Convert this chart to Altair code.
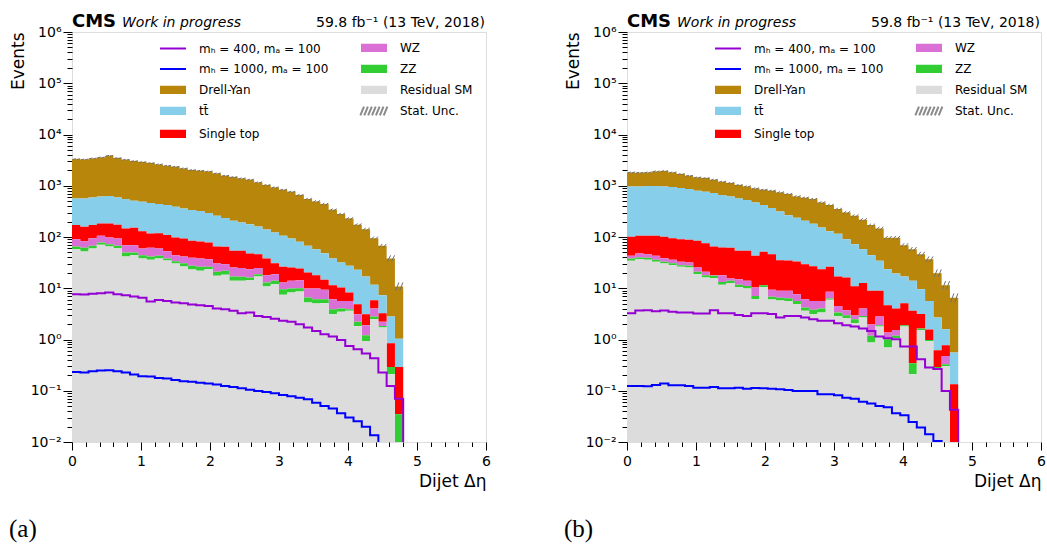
import numpy as np
import pandas as pd
import altair as alt

# ---------------- data ----------------
# histogram: 40 bins of width 0.12 on dijet delta-eta, 0 .. 4.8
bin_edges = [round(0.12 * i, 2) for i in range(41)]

SIG4 = "mₕ = 400, mₐ = 100"
SIG1 = "mₕ = 1000, mₐ = 100"
TT = "tt\u0304"

# Panel (a): stacked totals (top edge of each band, in events)
a_top_drellyan = [3318,3269,3419,3576,3854,3471,3220,3032,2899,2772,2611,2459,2350,2180,2023,1963,1905,1741,1568,1477,
                  1391,1310,1162,1030,927,835,763,657,549,494,438,340,280,230,173,142,95.0,67.3,38.1,10.8]
a_top_ttbar = [566,566,591,619,628,591,549,509,487,459,438,419,389,361,335,320,293,259,234,207,
               192,178,161,140,123,106,93.6,80.6,67.3,57.9,48.4,38.1,31.8,27.4,22.9,17.0,11.65,7.32,2.81,1.04]
a_top_singletop = [170.5,158,170.5,184,184,173,147,151,130,117,119,109,97.9,93.6,84.3,81.8,78.2,65.3,64.3,53.8,
                   53.8,47.7,46.3,38.1,30.9,26.2,25.4,24.3,20.3,18.0,14.6,11.5,10.3,8.25,4.88,3.12,5.85,3.26,0.845,0.292]
a_top_wz = [90.8,83.0,95.0,105.5,97.9,93.6,69.4,69.4,59.7,61.5,59.7,52.9,44.2,41.7,39.2,38.1,37.0,30.4,29.5,25.4,
            24.7,23.6,24.7,18.0,18.8,12.9,13.95,14.4,9.88,9.88,9.30,6.11,5.66,5.66,3.12,1.90,4.02,2.21,0.292,0.0347]
a_top_zz = [65.3,61.5,67.3,78.2,72.5,67.3,49.9,49.9,44.2,41.7,42.9,38.1,33.8,30.9,27.4,26.2,26.2,20.9,21.9,17.0,
            16.7,16.2,18.8,12.9,13.95,9.59,9.88,10.0,6.59,6.11,6.11,3.90,4.02,3.90,2.21,1.21,2.81,1.84,0.292,0.0347]
a_residual = [57.9,52.2,59.7,70.4,65.3,60.6,41.7,44.2,38.1,35.9,38.1,34.8,30.4,26.6,23.2,21.9,23.6,17.5,18.3,13.95,
              13.95,14.4,17.0,10.8,12.0,7.43,8.25,8.63,5.26,5.03,5.11,3.12,3.46,3.62,1.84,0.939,2.49,1.71,0.210,0]
a_sig400 = [7.66,7.54,7.77,8.01,8.25,7.66,7.32,6.89,6.49,5.51,5.93,5.66,5.26,5.11,4.81,4.67,4.53,4.02,3.90,3.62,
            3.26,3.36,2.89,2.76,2.53,2.31,2.21,1.99,1.71,1.47,1.27,1.14,0.982,0.750,0.645,0.531,0.431,0.226,0.124,0.0702]
a_sig1000 = [0.233,0.226,0.240,0.247,0.251,0.240,0.226,0.207,0.192,0.189,0.178,0.173,0.163,0.153,0.149,0.144,0.138,0.132,0.124,0.119,
             0.112,0.105,0.0991,0.0947,0.0892,0.0828,0.0780,0.0734,0.0681,0.0586,0.0505,0.0448,0.0363,0.0299,0.0253,0.0199,0.0135,0,0,0]
a_stat_unc = [0.015,0.015,0.015,0.015,0.015,0.015,0.015,0.015,0.015,0.015,0.02,0.02,0.02,0.02,0.02,0.02,0.02,0.02,0.02,0.02,
              0.025,0.025,0.025,0.025,0.025,0.03,0.03,0.035,0.04,0.045,0.05,0.05,0.05,0.05,0.055,0.065,0.075,0.09,0.15,0.2]

# Panel (b)
b_top_drellyan = [1822,1795,1822,1905,1934,1822,1690,1568,1455,1412,1310,1197,1128,1030,970,887,835,798,741,687,
                  619,583,549,472,419,350,301,259,217,170.5,147,96.4,96.4,69.4,57.9,46.3,37.0,19.7,11.5,6.49]
b_top_ttbar = [970,970,985,985,970,941,900,860,798,763,719,657,619,566,525,472,419,366,315,267,
               237,207,181,153.5,130,115.5,90.8,72.5,57.9,44.2,34.3,23.6,19.4,17.0,13.95,9.59,5.66,2.68,1.59,0.556]
b_top_singletop = [100.9,105.5,105.5,105.5,100.9,95.0,90.8,88.1,84.3,75.9,65.3,62.4,61.5,53.8,53.8,42.9,51.4,46.3,35.3,34.8,
                   33.3,29.5,27.0,23.6,26.2,17.0,16.2,11.0,12.7,8.89,8.89,4.67,4.02,5.11,3.62,3.16,1.56,0.617,0.773,0.134]
b_top_wz = [42.9,47.7,46.3,42.9,38.7,35.9,32.8,31.8,25.4,20.9,18.0,18.0,15.5,15.0,13.95,10.3,11.5,9.30,8.89,8.89,
            7.66,6.11,5.66,5.66,8.50,4.53,3.73,2.93,4.02,1.96,2.81,1.37,1.54,1.90,0.344,1.64,0.982,0.292,0.478,0]
b_top_zz = [38.1,39.8,39.2,35.9,32.8,30.9,28.2,27.4,20.9,18.0,17.5,13.3,13.95,11.65,11.1,7.04,11.5,6.79,6.49,6.40,
            5.66,4.20,3.79,4.02,6.30,3.36,2.98,2.49,2.89,1.18,1.90,1.01,1.18,1.90,0.344,1.64,0.982,0.292,0.329,0]
b_residual = [34.3,37.0,35.9,32.8,30.4,28.2,26.2,25.4,18.8,16.2,15.7,11.7,12.6,10.6,9.88,6.12,10.6,6.02,5.76,5.67,
              4.88,3.62,3.12,3.36,5.94,2.85,2.64,2.08,2.68,0.871,1.79,0.696,1.06,1.79,0.21,1.54,0.925,0.275,0.305,0]
b_sig400 = [3.26,3.67,3.73,3.57,3.67,3.46,3.36,3.36,3.21,3.21,3.73,3.26,3.26,3.02,2.89,3.26,3.26,3.16,2.68,2.89,
            2.89,2.68,2.49,2.31,2.31,2.08,1.90,1.79,1.64,1.47,1.14,1.06,1.01,0.728,0.728,0.412,0.283,0.267,0.0991,0.0428]
b_sig1000 = [0.124,0.124,0.122,0.130,0.138,0.128,0.128,0.124,0.115,0.115,0.119,0.112,0.112,0.115,0.110,0.113,0.112,0.110,0.107,0.104,
             0.0991,0.0991,0.0991,0.0853,0.0853,0.0816,0.0734,0.0702,0.0613,0.0561,0.0505,0.0475,0.0363,0.0332,0.0246,0.0191,0.0141,0.0105,0,0]
b_stat_unc = [0.02,0.02,0.02,0.02,0.02,0.02,0.02,0.02,0.02,0.02,0.03,0.03,0.03,0.03,0.03,0.03,0.03,0.035,0.035,0.035,
              0.04,0.04,0.045,0.045,0.05,0.055,0.06,0.065,0.07,0.07,0.08,0.085,0.09,0.09,0.1,0.11,0.13,0.18,0.2,0.22]

stack_names = ["Drell-Yan", TT, "Single top", "WZ", "ZZ", "Residual SM"]  # top to bottom
stack_colors = ["#b8860b", "#87ceeb", "#ff0000", "#da70d6", "#32cd32", "#dcdcdc"]
sig_names = [SIG4, SIG1]
sig_colors = ["#9400d3", "#0000ff"]
panels = {
    "a": dict(tops=[a_top_drellyan, a_top_ttbar, a_top_singletop, a_top_wz, a_top_zz, a_residual],
              s4=a_sig400, s1=a_sig1000, unc=a_stat_unc),
    "b": dict(tops=[b_top_drellyan, b_top_ttbar, b_top_singletop, b_top_wz, b_top_zz, b_residual],
              s4=b_sig400, s1=b_sig1000, unc=b_stat_unc),
}

# legend entries (filled column by column, two columns)
legend_dom = [SIG4, SIG1, "Drell-Yan", TT, "Single top", "WZ", "ZZ", "Residual SM", "Stat. Unc."]
legend_rng = ["#9400d3", "#0000ff", "#b8860b", "#87ceeb", "#ff0000", "#da70d6", "#32cd32", "#dcdcdc", "#8a8a8a"]
RECT = "".join(f"M-1,{y:.2f}H1" for y in (-0.25, -0.17, -0.09, -0.01, 0.07, 0.15, 0.23))
HATCH = "".join(f"M{-1.05 + 0.3 * k:.2f},0.33L{-0.77 + 0.3 * k:.2f},-0.33" for k in range(7))
legend_shapes = ["stroke", "stroke", RECT, RECT, RECT, RECT, RECT, RECT, HATCH]

is_maj_x = "abs(datum.value - round(datum.value)) < 0.001"
x_vals = [round(0.2 * i, 1) for i in range(31)]
LE = "(log(datum.value)/LN10)"
is_maj_y = f"abs({LE} - round({LE})) < 0.001"
y_vals = [float(f"{m}e{e}") for e in range(-2, 6) for m in range(1, 10)] + [1e6]
sup = "['⁻²','⁻¹','⁰','¹','²','³','⁴','⁵','⁶']"

W, H = 414, 410
FLOOR = 1e-5

xaxis = alt.Axis(values=x_vals, labelExpr=f"{is_maj_x} ? format(datum.value, 'd') : ' '",
                 tickSize={"condition": {"test": is_maj_x, "value": 8}, "value": 4.5},
                 tickColor="black", tickWidth=1, domain=False, grid=False, labelFontSize=14,
                 labelFont="DejaVu Sans", labelColor="black", labelPadding=4, labelFlush=False,
                 labelOverlap=False, labelBound=False, title="Dijet Δη", titleFontSize=17,
                 titleFont="DejaVu Sans", titleFontWeight="normal", titleAnchor="end",
                 titleColor="black", titlePadding=5)
yaxis = alt.Axis(values=y_vals, labelExpr=f"{is_maj_y} ? '10' + {sup}[round({LE}) + 2] : ' '",
                 tickSize={"condition": {"test": is_maj_y, "value": 9}, "value": 5},
                 tickColor="black", tickWidth=1, domain=False, grid=False, labelFontSize=14,
                 labelFont="DejaVu Sans", labelColor="black", labelPadding=2, labelFlush=False,
                 labelOverlap=False, labelBound=False, title="Events", titleFontSize=17,
                 titleFont="DejaVu Sans", titleFontWeight="normal", titleAnchor="end",
                 titleColor="black", titlePadding=3)
xs = alt.Scale(domain=[0, 6], nice=False, zero=False)
ys = alt.Scale(type="log", domain=[1e-2, 1e6], nice=False)


def panel(key):
    P = panels[key]
    tops = P["tops"]
    arows = []
    for j, name in enumerate(stack_names):
        for i in range(41):
            k = min(i, 39)
            hi = float(tops[j][k])
            lo = float(tops[j + 1][k]) if j + 1 < len(tops) else 0.0
            arows.append(dict(x=bin_edges[i], hi=max(hi, FLOOR), lo=max(lo, FLOOR), proc=name))
    adf = pd.DataFrame(arows)

    lrows = []
    for name, arr in ((SIG4, P["s4"]), (SIG1, P["s1"])):
        for i in range(40):
            v = float(arr[i]) if arr[i] > 0 else FLOOR
            lrows.append(dict(x=bin_edges[i], y=v, proc=name, o=2 * i))
            lrows.append(dict(x=bin_edges[i + 1], y=v, proc=name, o=2 * i + 1))
        lrows.append(dict(x=bin_edges[40], y=FLOOR, proc=name, o=80))
    ldf = pd.DataFrame(lrows)

    hrows = []
    for i in range(40):
        tot = float(tops[0][i])
        u = float(P["unc"][i])
        for k in range(2):
            xa = bin_edges[i] + 0.012 + 0.058 * k
            hrows.append(dict(x=xa, x2=xa + 0.045, y=tot / (1 + u), y2=tot * (1 + u)))
    hdf = pd.DataFrame(hrows)

    kdf = pd.DataFrame({"proc": legend_dom, "x": [-5.0] * 9, "y": [1.0] * 9})

    leg = alt.Legend(title=None, orient="none", legendX=87, legendY=2, columns=2,
                     columnPadding=27, rowPadding=-2.5, symbolSize=676, symbolStrokeWidth=2,
                     labelFontSize=12, labelFont="DejaVu Sans", labelColor="black",
                     labelOffset=12, padding=0, direction="vertical")

    areas = alt.Chart(adf).mark_area(clip=True, interpolate="step-after").encode(
        x=alt.X("x:Q", scale=xs, axis=xaxis),
        y=alt.Y("hi:Q", scale=ys, axis=yaxis, stack=None), y2="lo:Q",
        fill=alt.Fill("proc:N", scale=alt.Scale(domain=stack_names, range=stack_colors), legend=None))
    hatch = alt.Chart(hdf).mark_rule(clip=True, color="#6f6f6f", strokeWidth=1).encode(
        x=alt.X("x:Q", scale=xs, axis=xaxis), x2="x2:Q",
        y=alt.Y("y:Q", scale=ys, axis=yaxis), y2="y2:Q")
    lines = alt.Chart(ldf).mark_line(clip=True, strokeWidth=2).encode(
        x=alt.X("x:Q", scale=xs, axis=xaxis), y=alt.Y("y:Q", scale=ys, axis=yaxis),
        stroke=alt.Stroke("proc:N", scale=alt.Scale(domain=sig_names, range=sig_colors), legend=None),
        order="o:Q")
    keys = alt.Chart(kdf).mark_point(filled=False, opacity=1, size=676, clip=True, strokeWidth=2).encode(
        x=alt.X("x:Q", scale=xs, axis=xaxis), y=alt.Y("y:Q", scale=ys, axis=yaxis),
        color=alt.Color("proc:N", scale=alt.Scale(domain=legend_dom, range=legend_rng), legend=leg),
        shape=alt.Shape("proc:N", scale=alt.Scale(domain=legend_dom, range=legend_shapes), legend=leg))

    def txt(t, x, y, **kw):
        return alt.Chart(pd.DataFrame({"t": [t]})).mark_text(color="black", **kw).encode(
            x=alt.value(x), y=alt.value(y), text="t:N")
    cms = txt("CMS", 0, -5.5, align="left", baseline="alphabetic", fontSize=18, fontWeight="bold", font="DejaVu Sans")
    wip = txt("Work in progress", 50, -5.5, align="left", baseline="alphabetic", fontSize=14, fontStyle="italic", font="DejaVu Sans")
    lumi = txt("59.8 fb⁻¹ (13 TeV, 2018)", 413, -5.5, align="right", baseline="alphabetic", fontSize=14, font="DejaVu Sans")
    cap = txt(f"({key})", -63, 505, align="left", baseline="alphabetic", fontSize=25, font="Liberation Serif")
    return alt.layer(areas, hatch, lines, keys, cms, wip, lumi, cap).properties(width=W, height=H)


chart = alt.hconcat(panel("a"), panel("b"), spacing=72).resolve_scale(
    color="independent", fill="independent", stroke="independent", shape="independent").resolve_legend(
    color="independent", fill="independent", stroke="independent", shape="independent")
chart = chart.configure_view(stroke="black", strokeWidth=1.3).configure(
    padding={"left": 8, "top": 12, "right": 0, "bottom": 0}, background="white")
chart.save("out.html", embed_options={"renderer": "svg", "actions": False})
